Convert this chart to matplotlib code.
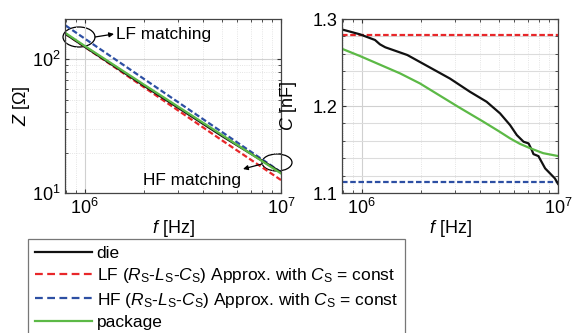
import matplotlib
matplotlib.use("Agg")
import matplotlib.pyplot as plt
from matplotlib.patches import Ellipse
from matplotlib.lines import Line2D
from matplotlib.ticker import MultipleLocator, LogLocator, NullFormatter
import numpy as np

plt.rcParams['font.family'] = ['Liberation Sans', 'DejaVu Sans']
plt.rcParams['mathtext.fontset'] = 'custom'
plt.rcParams['mathtext.rm'] = 'Liberation Sans'
plt.rcParams['mathtext.it'] = 'Liberation Sans:italic'
plt.rcParams['mathtext.bf'] = 'Liberation Sans:bold'

# ---- data ----
f_z = [8.0e5, 1e6, 2e6, 5e6, 1e7]
z_die = [154.5, 124.2, 63.6, 26.7, 14.3]
z_lf = [155.0, 124.0, 62.0, 24.8, 12.5]
z_hf = [179.0, 143.0, 71.5, 28.6, 14.3]
z_pkg = [157.0, 126.0, 64.8, 27.2, 14.0]

f_c = [7.8e5, 9.8e5, 1.17e6, 1.24e6, 1.32e6, 1.71e6, 2.82e6, 3.56e6, 4.33e6, 5.07e6,
       5.7e6, 6.17e6, 6.68e6, 7.08e6, 7.36e6, 7.5e6, 7.95e6, 8.6e6, 9.1e6, 9.64e6, 1e7]
c_die = [1.2885, 1.2824, 1.2759, 1.2709, 1.2675, 1.2586, 1.2315, 1.2164, 1.2049, 1.1915,
         1.1781, 1.1666, 1.1589, 1.1570, 1.1493, 1.1447, 1.1424, 1.1283, 1.1226, 1.1168, 1.1105]
f_cp = [7.8e5, 9.8e5, 1.57e6, 1.98e6, 3.1e6, 4.17e6, 5.0e6, 5.7e6, 6.4e6, 7.25e6, 8.4e6, 1e7]
c_pkg = [1.2665, 1.2575, 1.2375, 1.226, 1.1991, 1.1819, 1.171, 1.1628, 1.1565, 1.1513, 1.1458, 1.1425]
c_lf_const = 1.2816
c_hf_const = 1.113

labels = ['die',
          r'LF ($\it{R}_{\rm S}$-$\it{L}_{\rm S}$-$\it{C}_{\rm S}$) Approx. with $\it{C}_{\rm S}$ = const',
          r'HF ($\it{R}_{\rm S}$-$\it{L}_{\rm S}$-$\it{C}_{\rm S}$) Approx. with $\it{C}_{\rm S}$ = const',
          'package']

c_black = '#111111'
c_red = '#e8272a'
c_blue = '#2d4fa3'
c_green = '#5cb946'
lw = 1.6
dash = (2.5, 1.2)

W, H = 578, 333
fig = plt.figure(figsize=(W/100, H/100), dpi=100)
ax1 = fig.add_axes([65/W, 1-193/H, 216/W, 174/H])
ax2 = fig.add_axes([342/W, 1-193/H, 216/W, 174/H])

fs = 13

def style(ax):
    ax.set_xscale('log')
    ax.grid(True, which='major', color='#d0d0d0', lw=0.8)
    ax.grid(True, which='minor', color='#dcdcdc', lw=0.6, ls=':')
    ax.tick_params(which='both', direction='in', top=True, right=True, labelsize=fs, colors='#333333', labelcolor='black')
    ax.tick_params(which='major', length=3)
    ax.tick_params(which='minor', length=2)
    for s in ax.spines.values():
        s.set_color('#444444')
        s.set_linewidth(0.9)
    ax.set_xlim(7.95e5, 1e7)
    ax.set_xticks([1e6, 1e7])
    ax.xaxis.set_minor_locator(LogLocator(base=10, subs=np.arange(2, 10)))
    ax.xaxis.set_minor_formatter(NullFormatter())
    ax.set_xlabel(r'$\it{f}$ [Hz]', fontsize=fs, labelpad=0)

# left: impedance
style(ax1)
ax1.set_yscale('log')
ax1.set_ylim(10, 200)
ax1.set_yticks([10, 100])
ax1.yaxis.set_minor_locator(LogLocator(base=10, subs=np.arange(2, 10)))
ax1.yaxis.set_minor_formatter(NullFormatter())
ax1.plot(f_z, z_hf, color=c_blue, lw=lw, dashes=dash)
ax1.plot(f_z, z_lf, color=c_red, lw=lw, dashes=dash)
ax1.plot(f_z, z_die, color=c_black, lw=lw)
ax1.plot(f_z, z_pkg, color=c_green, lw=lw)
ax1.set_ylabel(r'$\it{Z}$ [$\Omega$]', fontsize=fs)
ax1.yaxis.set_label_coords(-0.153, 0.5)

def axfrac(px, py):
    return ((px-65)/216, (193-py)/174)

e1 = Ellipse(axfrac(79, 37), 32/216, 20/174, transform=ax1.transAxes, fill=False, ec='black', lw=0.9, clip_on=False)
ax1.add_patch(e1)
ax1.annotate('', xy=axfrac(114, 34), xytext=axfrac(95, 37), xycoords='axes fraction', textcoords='axes fraction',
             arrowprops=dict(arrowstyle='-|>', color='black', lw=0.9, mutation_scale=7, shrinkA=0, shrinkB=0))
ax1.text(*axfrac(116, 35), 'LF matching', transform=ax1.transAxes, fontsize=12.4, va='center', ha='left')

e2 = Ellipse(axfrac(277, 162.5), 30/216, 17/174, transform=ax1.transAxes, fill=False, ec='black', lw=0.9, clip_on=False)
ax1.add_patch(e2)
ax1.annotate('', xy=axfrac(243, 169), xytext=axfrac(262, 164), xycoords='axes fraction', textcoords='axes fraction',
             arrowprops=dict(arrowstyle='-|>', color='black', lw=0.9, mutation_scale=7, shrinkA=0, shrinkB=0))
ax1.text(*axfrac(143, 180), 'HF matching', transform=ax1.transAxes, fontsize=12.4, va='center', ha='left')

# right: capacitance
style(ax2)
ax2.set_ylim(1.1, 1.3)
ax2.set_yticks([1.1, 1.2, 1.3])
ax2.yaxis.set_minor_locator(MultipleLocator(0.02))
ax2.grid(True, which='minor', axis='y', color='#dcdcdc', lw=0.8, ls='-')
ax2.plot(ax2.get_xlim(), [c_lf_const, c_lf_const], color=c_red, lw=lw, dashes=dash)
ax2.plot(ax2.get_xlim(), [c_hf_const, c_hf_const], color=c_blue, lw=lw, dashes=dash)
ax2.plot(f_c, c_die, color=c_black, lw=lw)
ax2.plot(f_cp, c_pkg, color=c_green, lw=lw)
ax2.set_ylabel(r'$\it{C}$ [nF]', fontsize=fs)
ax2.yaxis.set_label_coords(-0.199, 0.5)

# legend
handles = [Line2D([], [], color=c_black, lw=lw),
           Line2D([], [], color=c_red, lw=lw, dashes=(3.5, 2)),
           Line2D([], [], color=c_blue, lw=lw, dashes=(3.5, 2)),
           Line2D([], [], color=c_green, lw=lw)]
leg = fig.legend(handles, labels, loc='upper left', bbox_to_anchor=(28/W, 1-239/H),
                 fontsize=12.5, frameon=True, fancybox=False, handlelength=3.3, handletextpad=0.25,
                 labelspacing=0.3, borderpad=0.4, borderaxespad=0)
leg.get_frame().set_edgecolor('#555555')
leg.get_frame().set_linewidth(0.9)

fig.savefig('out.png', dpi=100)
